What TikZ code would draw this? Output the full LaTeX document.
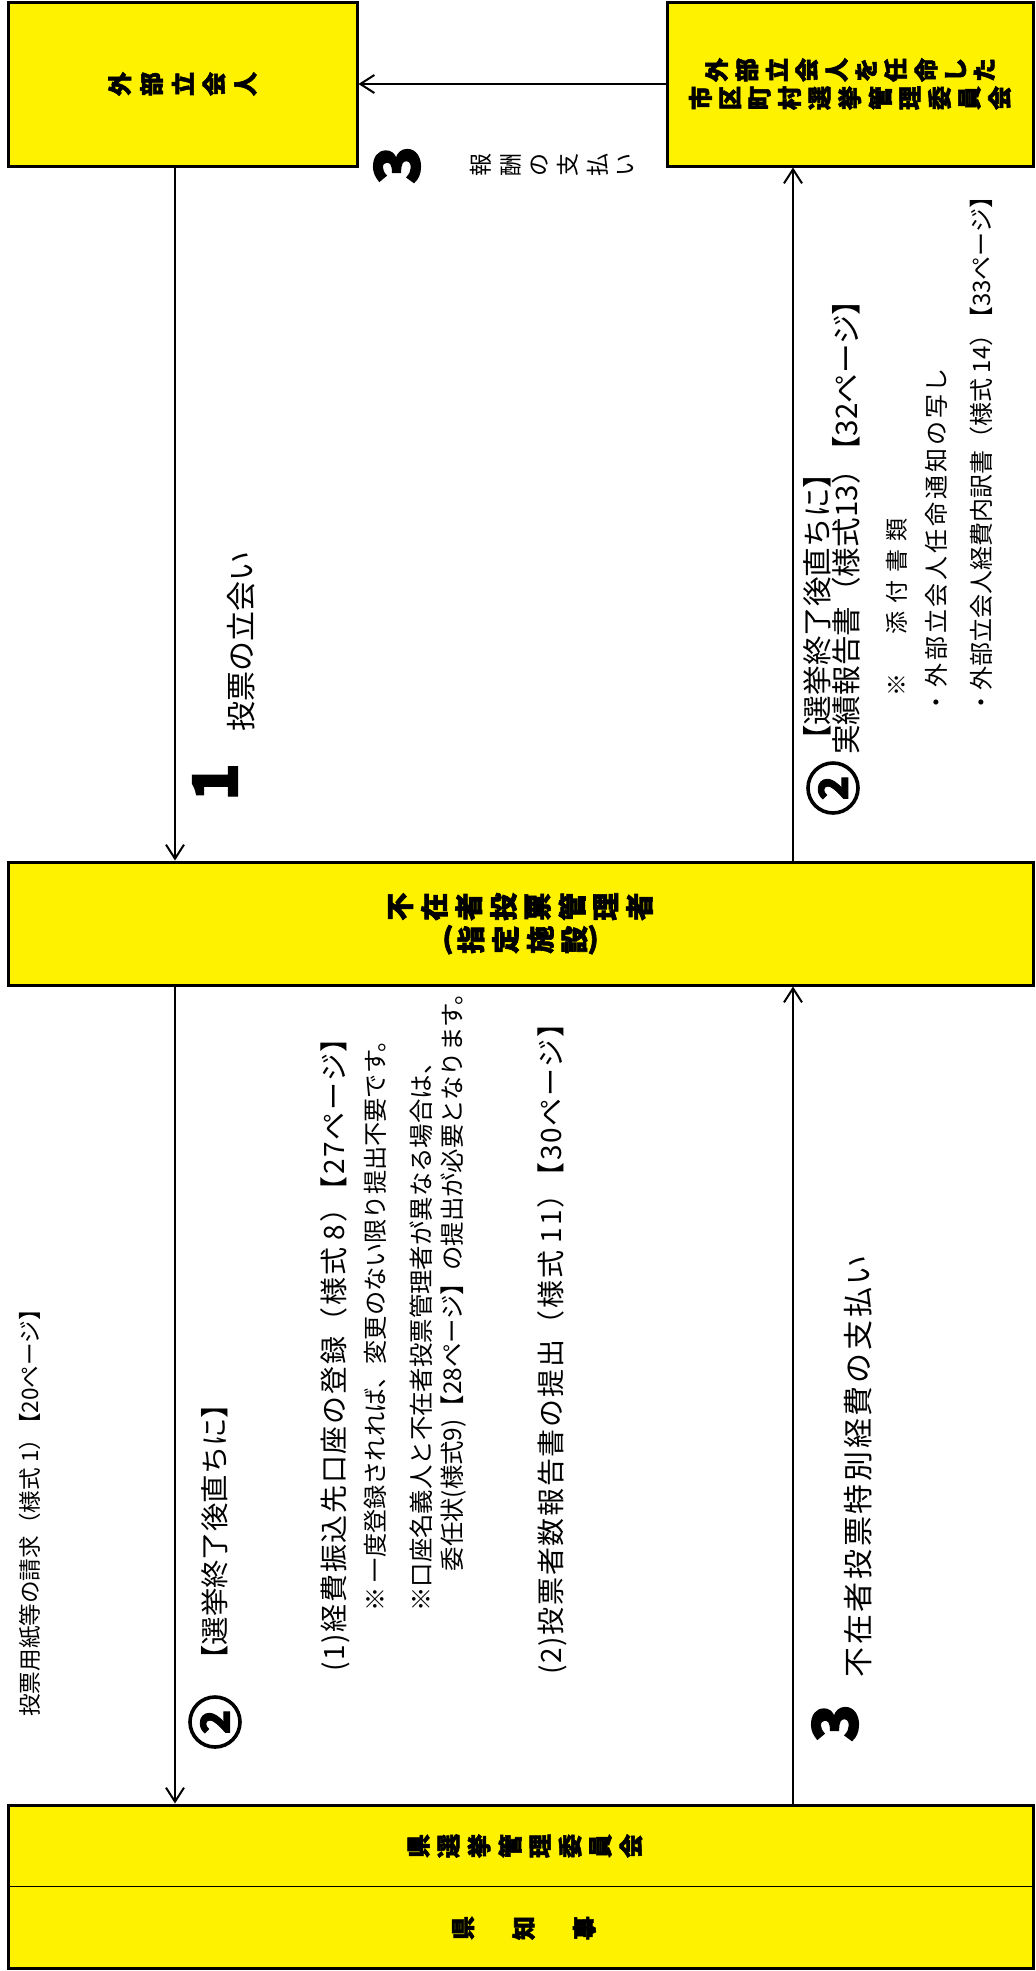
\documentclass[tikz,border=0pt]{standalone}
\usepackage{fontspec}
\usepackage{graphicx}
\setmainfont{Noto Sans CJK JP}
\newfontfamily\heavy{Noto Sans CJK JP}[FakeBold=2.2]
\usetikzlibrary{arrows.meta}

\def\tatechar#1#2{\rotatebox{90}{#1}\ifx\relax#2\else\hspace{\tategap}\expandafter\tatechar\expandafter#2\fi}
\newcommand\tate[2][4pt]{\def\tategap{#1}\tatechar#2\relax}
\newcommand\tk{\hspace{-.35em}}

\begin{document}
\begin{tikzpicture}[x=0.5pt, y=-0.5pt,
    box/.style={draw, fill=yellow, line width=1.5pt, inner sep=0pt, align=center},
    boxfont/.style={font=\heavy\bfseries\fontsize{12}{14}\selectfont},
    lbl/.style={rotate=90, inner sep=0pt, anchor=west, align=left},
    num/.style={rotate=90, inner sep=0pt, font=\heavy\bfseries\fontsize{31}{31}\selectfont},
    circ/.style={circle, draw, line width=1.8pt, minimum size=25pt, inner sep=0pt, rotate=90,
        font=\heavy\bfseries\fontsize{20}{20}\selectfont},
    arr/.style={-{Straight Barb[length=7pt, width=9pt]}, line width=1pt}]
    \useasboundingbox (0,0) rectangle (1035,1971);

    \node[box, boxfont, minimum width=174.5pt, minimum height=82pt] (witness) at (182.5,84) {\tate[4.5pt]{外部立会人}};
    \node[box, boxfont, minimum width=183pt, minimum height=82pt] (city) at (850,84)
        {\tate[3.8pt]{外部立会人を任命した}\\\tate[3.8pt]{市区町村選挙管理委員会}};
    \node[box, font=\heavy\bfseries\fontsize{14}{16.5}\selectfont, minimum width=512.5pt, minimum height=61.5pt] (mgr) at (520.5,923.5)
        {\tate[4pt]{不在者投票管理者}\\\raisebox{.18em}{(}\hspace{2pt}\tate[4pt]{指定施設}\raisebox{.18em}{)}};
    \node[box, minimum width=512.5pt, minimum height=81.5pt] (pref) at (520.5,1886.5) {};
    \draw[line width=0.5pt] (pref.west) -- (pref.east);
    \node[boxfont, inner sep=0pt] (prefcom) at (525,1846) {\tate[4pt]{県選挙管理委員会}};
    \node[boxfont, inner sep=0pt] (gov) at (524,1928) {\tate[19pt]{県知事}};

    \coordinate (lx) at (175,0);
    \coordinate (rx) at (793,0);
    \draw[arr] (city.west) -- (witness.east);
    \draw[arr] (witness.south -| lx) -- (mgr.north -| lx);
    \draw[arr] (mgr.north -| rx) -- (city.south -| rx);
    \draw[arr] (mgr.south -| lx) -- (pref.north -| lx);
    \draw[arr] (pref.north -| rx) -- (mgr.south -| rx);

    \node[num] (three1) at (397,165) {3};
    \node[inner sep=0pt, font=\fontsize{11.5}{11.5}\selectfont] (fee) at (552,165) {\tate[4.5pt]{報酬の支払い}};

    \node[num] (one) at (215,782) {1};
    \node[lbl, font=\fontsize{15}{15}\selectfont] (watch) at (241,732) {投票の立会い};

    \node[circ] (two1) at (833,788) {2};
    \node[lbl, font=\fontsize{14.8}{14.5}\selectfont] (report) at (831.5,755)
        {【選挙終了後直ちに】\\実績報告書（様式13）\tk【32ページ】};
    \node[lbl, font=\fontsize{11.5}{11.5}\selectfont\addfontfeature{LetterSpace=35}] (attach) at (897,697) {※　添付書類};
    \node[lbl, font=\fontsize{12}{12}\selectfont\addfontfeature{LetterSpace=12}] (notice) at (936,715) {・外部立会人任命通知の写し};
    \node[lbl, font=\fontsize{12}{12}\selectfont] (detail) at (981,715) {・外部立会人経費内訳書（様式 14）\tk【33ページ】};

    \node[lbl, font=\fontsize{11.3}{11.3}\selectfont] (request) at (30,1717) {投票用紙等の請求（様式 1）\tk【20ページ】};
    \node[circ] (two2) at (215,1722) {2};
    \node[lbl, font=\fontsize{14.2}{14.2}\selectfont] (after) at (215,1674) {【選挙終了後直ちに】};
    \node[lbl, font=\fontsize{14}{14}\selectfont\addfontfeature{LetterSpace=6}] (account) at (335,1672) {(1)経費振込先口座の登録（様式 8）\tk【27ページ】};
    \node[lbl, font=\fontsize{12.1}{12.1}\selectfont] (once) at (375,1612) {※ 一度登録されれば、変更のない限り提出不要です。};
    \node[lbl, font=\fontsize{12.2}{15.5}\selectfont] (proxy) at (438.5,1612)
        {※口座名義人と不在者投票管理者が異なる場合は、\\\hspace*{1.65em}委任状(様式9)【28ページ】の提出が必要となります。};
    \node[lbl, font=\fontsize{14}{14}\selectfont\addfontfeature{LetterSpace=6}] (count) at (552,1675) {(2)投票者数報告書の提出（様式 11）\tk【30ページ】};

    \node[num] (three2) at (835,1723) {3};
    \node[lbl, font=\fontsize{15}{15}\selectfont\addfontfeature{LetterSpace=9}] (pay) at (858,1678) {不在者投票特別経費の支払い};
\end{tikzpicture}
\end{document}
